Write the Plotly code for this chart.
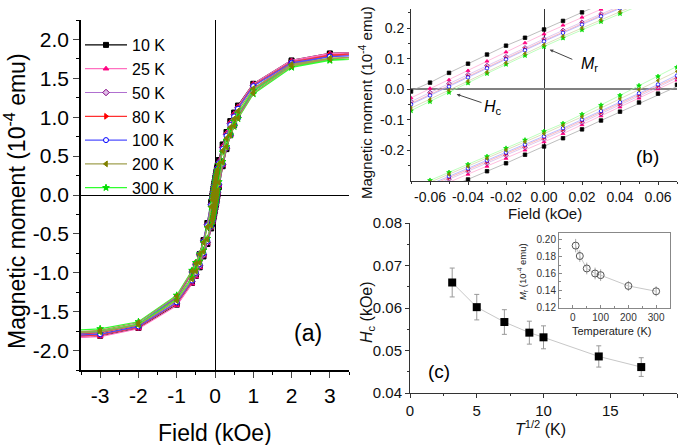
import plotly.graph_objects as go

W, H = 685, 445
def px(x): return x / W
def py(y): return 1 - y / H

# ---------------- data ----------------
temps = ["10 K", "25 K", "50 K", "80 K", "100 K", "200 K", "300 K"]

H_down = [4, 3, 2, 1, 0.6, 0.5, 0.4, 0.3, 0.2, 0.1,
          0.07, 0.06, 0.05, 0.04, 0.03, 0.02, 0.01, 0.0, -0.01, -0.02, -0.03, -0.04, -0.05, -0.06, -0.07,
          -0.1, -0.2, -0.3, -0.4, -0.5, -0.6, -1, -2, -3, -4]
H_up = [-4, -3, -2, -1, -0.6, -0.5, -0.4, -0.3, -0.2, -0.1,
        -0.07, -0.06, -0.05, -0.04, -0.03, -0.02, -0.01, 0.0, 0.01, 0.02, 0.03, 0.04, 0.05, 0.06, 0.07,
        0.1, 0.2, 0.3, 0.4, 0.5, 0.6, 1, 2, 3, 4]

M10_down = [1.84, 1.82, 1.73, 1.43, 1.15, 1.06, 0.95, 0.81, 0.65, 0.45,
            0.381, 0.356, 0.331, 0.305, 0.279, 0.252, 0.224, 0.196, 0.169, 0.143, 0.114, 0.084, 0.054, 0.022, -0.007,
            -0.09, -0.36, -0.58, -0.76, -0.89, -1.00, -1.34, -1.69, -1.79, -1.82]
M10_up = [-1.84, -1.81, -1.71, -1.41, -1.13, -1.04, -0.93, -0.79, -0.63, -0.43,
          -0.372, -0.347, -0.321, -0.295, -0.268, -0.242, -0.214, -0.187, -0.160, -0.131, -0.102, -0.073, -0.043, -0.014, 0.015,
          0.10, 0.37, 0.59, 0.77, 0.90, 1.01, 1.36, 1.71, 1.81, 1.84]

M25_down = [1.84, 1.82, 1.73, 1.43, 1.14, 1.05, 0.94, 0.80, 0.63, 0.435,
            0.366, 0.341, 0.315, 0.289, 0.262, 0.236, 0.210, 0.181, 0.152, 0.122, 0.092, 0.061, 0.031, 0.003, -0.028,
            -0.11, -0.37, -0.59, -0.76, -0.89, -1.00, -1.34, -1.70, -1.80, -1.83]
M25_up = [-1.84, -1.82, -1.72, -1.42, -1.14, -1.05, -0.93, -0.78, -0.62, -0.42,
          -0.355, -0.330, -0.304, -0.278, -0.252, -0.226, -0.199, -0.172, -0.145, -0.116, -0.087, -0.058, -0.029, 0.001, 0.030,
          0.12, 0.38, 0.60, 0.77, 0.90, 1.01, 1.36, 1.71, 1.81, 1.84]

M50_down = [1.82, 1.80, 1.71, 1.41, 1.12, 1.03, 0.92, 0.78, 0.61, 0.42,
            0.349, 0.324, 0.299, 0.273, 0.247, 0.220, 0.193, 0.165, 0.136, 0.107, 0.078, 0.048, 0.019, -0.010, -0.040,
            -0.12, -0.38, -0.59, -0.76, -0.89, -0.99, -1.32, -1.67, -1.77, -1.80]
M50_up = [-1.82, -1.80, -1.70, -1.39, -1.11, -1.02, -0.91, -0.77, -0.61, -0.41,
          -0.345, -0.320, -0.294, -0.268, -0.242, -0.216, -0.190, -0.163, -0.136, -0.108, -0.080, -0.051, -0.022, 0.007, 0.036,
          0.13, 0.39, 0.60, 0.77, 0.90, 1.00, 1.34, 1.69, 1.79, 1.82]

M80_down = [1.82, 1.80, 1.71, 1.41, 1.12, 1.02, 0.91, 0.77, 0.60, 0.41,
            0.344, 0.319, 0.294, 0.268, 0.242, 0.215, 0.188, 0.160, 0.131, 0.101, 0.072, 0.042, 0.012, -0.017, -0.046,
            -0.13, -0.39, -0.60, -0.76, -0.88, -0.99, -1.32, -1.67, -1.77, -1.80]
M80_up = [-1.82, -1.80, -1.70, -1.39, -1.11, -1.01, -0.90, -0.76, -0.60, -0.41,
          -0.340, -0.315, -0.289, -0.263, -0.237, -0.211, -0.185, -0.158, -0.131, -0.103, -0.075, -0.046, -0.017, 0.012, 0.041,
          0.14, 0.40, 0.61, 0.77, 0.89, 1.00, 1.34, 1.69, 1.79, 1.82]

M100_down = [1.80, 1.78, 1.70, 1.40, 1.11, 1.01, 0.90, 0.76, 0.59, 0.41,
             0.341, 0.316, 0.291, 0.265, 0.239, 0.212, 0.185, 0.157, 0.128, 0.098, 0.069, 0.039, 0.009, -0.020, -0.049,
             -0.13, -0.39, -0.60, -0.76, -0.88, -0.98, -1.31, -1.66, -1.76, -1.79]
M100_up = [-1.81, -1.79, -1.69, -1.38, -1.10, -1.00, -0.89, -0.75, -0.59, -0.40,
           -0.336, -0.311, -0.285, -0.259, -0.233, -0.207, -0.181, -0.154, -0.127, -0.099, -0.071, -0.042, -0.013, 0.016, 0.045,
           0.14, 0.40, 0.61, 0.77, 0.89, 0.99, 1.33, 1.68, 1.78, 1.80]

M200_down = [1.78, 1.76, 1.68, 1.37, 1.08, 0.98, 0.87, 0.73, 0.57, 0.40,
             0.330, 0.305, 0.280, 0.254, 0.228, 0.201, 0.174, 0.146, 0.117, 0.087, 0.057, 0.027, -0.003, -0.033, -0.062,
             -0.15, -0.41, -0.61, -0.76, -0.88, -0.98, -1.30, -1.64, -1.74, -1.77]
M200_up = [-1.78, -1.76, -1.67, -1.36, -1.08, -0.98, -0.87, -0.73, -0.57, -0.39,
           -0.330, -0.304, -0.278, -0.252, -0.226, -0.199, -0.172, -0.145, -0.118, -0.090, -0.061, -0.031, -0.001, 0.029, 0.059,
           0.16, 0.42, 0.62, 0.77, 0.89, 0.99, 1.31, 1.66, 1.75, 1.78]

M300_down = [1.76, 1.74, 1.66, 1.34, 1.05, 0.95, 0.84, 0.70, 0.55, 0.39,
             0.324, 0.299, 0.274, 0.248, 0.222, 0.195, 0.168, 0.140, 0.111, 0.082, 0.052, 0.021, -0.010, -0.040, -0.070,
             -0.16, -0.42, -0.61, -0.76, -0.87, -0.97, -1.29, -1.63, -1.72, -1.75]
M300_up = [-1.77, -1.75, -1.66, -1.34, -1.06, -0.96, -0.85, -0.71, -0.56, -0.39,
           -0.324, -0.298, -0.272, -0.246, -0.220, -0.193, -0.166, -0.138, -0.112, -0.082, -0.052, -0.020, 0.012, 0.042, 0.072,
           0.17, 0.43, 0.62, 0.77, 0.88, 0.98, 1.30, 1.64, 1.73, 1.76]

loops_down = [M10_down, M25_down, M50_down, M80_down, M100_down, M200_down, M300_down]
loops_up = [M10_up, M25_up, M50_up, M80_up, M100_up, M200_up, M300_up]

# panel (c): coercivity vs T^1/2
sqrtT = [3.16, 5.0, 7.07, 8.94, 10.0, 14.14, 17.32]
Hc = [0.0660, 0.0602, 0.0567, 0.0542, 0.0531, 0.0486, 0.0461]
Hc_err = [0.0034, 0.0030, 0.0029, 0.0027, 0.0027, 0.0025, 0.0022]

# inset: remanence vs temperature
T_K = [10, 25, 50, 80, 100, 200, 300]
Mr = [0.1932, 0.1808, 0.1660, 0.1600, 0.1580, 0.1452, 0.1388]
Mr_err = [0.008, 0.007, 0.007, 0.007, 0.007, 0.006, 0.006]

# tick labels
a_xticks = [-3, -2, -1, 0, 1, 2, 3]
a_xlabels = ["-3", "-2", "-1", "0", "1", "2", "3"]
a_yticks = [-2.0, -1.5, -1.0, -0.5, 0.0, 0.5, 1.0, 1.5, 2.0]
a_ylabels = ["-2.0", "-1.5", "-1.0", "-0.5", "0.0", "0.5", "1.0", "1.5", "2.0"]
b_xticks = [-0.06, -0.04, -0.02, 0.0, 0.02, 0.04, 0.06]
b_xlabels = ["-0.06", "-0.04", "-0.02", "0.00", "0.02", "0.04", "0.06"]
b_yticks = [-0.2, -0.1, 0.0, 0.1, 0.2]
b_ylabels = ["-0.2", "-0.1", "0.0", "0.1", "0.2"]
c_xticks = [0, 5, 10, 15, 20]
c_xlabels = ["0", "5", "10", "15", "20"]
c_yticks = [0.04, 0.05, 0.06, 0.07, 0.08]
c_ylabels = ["0.04", "0.05", "0.06", "0.07", "0.08"]
i_xticks = [0, 100, 200, 300]
i_xlabels = ["0", "100", "200", "300"]
i_yticks = [0.12, 0.14, 0.16, 0.18, 0.20]
i_ylabels = ["0.12", "0.14", "0.16", "0.18", "0.20"]

# ---------------- style ----------------
FONT = "Arial, Liberation Sans, sans-serif"
mk_colors = ["#000000", "#FF0080", "#800080", "#FF0000", "#0000FF", "#808000", "#00DD00"]
mk_fill = ["#000000", "#FF0080", "#E0C0E8", "#FF0000", "#FFFFFF", "#808000", "#00DD00"]
ln_a = ["#000000", "#FF70C0", "#B070D0", "#FF3030", "#5050FF", "#A0A050", "#30FF30"]
ln_b = ["#A0A0A0", "#FFA0D0", "#D0B0E8", "#FFA0A0", "#A0A0FF", "#D0D0A0", "#A0FFA0"]
symbols = ["square", "triangle-up", "diamond", "triangle-right", "circle", "triangle-left", "star"]
draw_order = [0, 1, 2, 3, 4, 6, 5]

fig = go.Figure()

for i in draw_order:
    xs = H_down + H_up
    ys = loops_down[i] + loops_up[i]
    fig.add_trace(go.Scatter(
        x=xs, y=ys, mode="lines+markers", name=temps[i], xaxis="x", yaxis="y",
        legendrank=i + 1,
        line=dict(color=ln_a[i], width=1.2),
        marker=dict(symbol=symbols[i], size=5, color=mk_fill[i],
                    line=dict(color=mk_colors[i], width=1)),
        showlegend=True))

for i in draw_order:
    xs = H_down + H_up
    ys = loops_down[i] + loops_up[i]
    fig.add_trace(go.Scatter(
        x=xs, y=ys, mode="lines+markers", name=temps[i], xaxis="x2", yaxis="y2",
        line=dict(color=ln_b[i], width=0.7),
        marker=dict(symbol=symbols[i], size=3.5, color=mk_fill[i],
                    line=dict(color=mk_colors[i], width=0.8)),
        showlegend=False))

fig.add_trace(go.Scatter(
    x=sqrtT, y=Hc, mode="lines+markers", xaxis="x3", yaxis="y3", showlegend=False,
    line=dict(color="#C8C8C8", width=1),
    marker=dict(symbol="square", size=8, color="#000000"),
    error_y=dict(type="data", array=Hc_err, color="#999999", thickness=1, width=2.5)))

fig.add_trace(go.Scatter(
    x=T_K, y=Mr, mode="lines+markers", xaxis="x4", yaxis="y4", showlegend=False,
    line=dict(color="#C8C8C8", width=1),
    marker=dict(symbol="circle-open", size=7, color="#555555", line=dict(width=1)),
    error_y=dict(type="data", array=Mr_err, color="#AAAAAA", thickness=1, width=0)))


def base_axis(**kw):
    d = dict(showgrid=False, zeroline=False, showline=True, fixedrange=True,
             tickmode="array", automargin=False)
    d.update(kw)
    return d

# panel (a)
a_font = dict(family=FONT, size=21, color="#000")
fig.update_layout(
    xaxis=base_axis(domain=[px(81), px(349)], anchor="y", range=[-3.5, 3.5],
                    tickvals=a_xticks, ticktext=a_xlabels, ticks="outside", ticklen=6,
                    tickwidth=1.3, linewidth=1.5, linecolor="#000", tickfont=a_font,
                    zeroline=True, zerolinecolor="#000", zerolinewidth=1.2,
                    minor=dict(ticks="outside", ticklen=3, tickmode="linear", tick0=-3.5, dtick=0.5,
                               tickcolor="#000", tickwidth=1)),
    yaxis=base_axis(domain=[py(370), py(20)], anchor="x", range=[-2.25, 2.25],
                    tickvals=a_yticks, ticktext=a_ylabels, ticks="outside", ticklen=6,
                    tickwidth=1.3, linewidth=1.5, linecolor="#000", tickfont=a_font,
                    zeroline=True, zerolinecolor="#000", zerolinewidth=1.2,
                    minor=dict(ticks="outside", ticklen=3, tickmode="linear", tick0=-2.25, dtick=0.25,
                               tickcolor="#000", tickwidth=1)),
    xaxis5=base_axis(overlaying="x", anchor="y", side="top", range=[-3.5, 3.5],
                     tickvals=a_xticks, ticks="inside", ticklen=6, tickwidth=1.3,
                     showticklabels=False, linewidth=1.5, linecolor="#000",
                     minor=dict(ticks="inside", ticklen=3, tickmode="linear", tick0=-3.5, dtick=0.5)),
    yaxis5=base_axis(overlaying="y", anchor="x", side="right", range=[-2.25, 2.25],
                     tickvals=a_yticks, ticks="inside", ticklen=6, tickwidth=1.3,
                     showticklabels=False, linewidth=1.5, linecolor="#000",
                     minor=dict(ticks="inside", ticklen=3, tickmode="linear", tick0=-2.25, dtick=0.25)),
)

# panel (b)
b_font = dict(family=FONT, size=14, color="#111")
fig.update_layout(
    xaxis2=base_axis(domain=[px(411), px(677)], anchor="y2", range=[-0.07, 0.07],
                     tickvals=b_xticks, ticktext=b_xlabels, ticks="outside", ticklen=3,
                     linewidth=1, linecolor="#333", tickcolor="#333", tickfont=b_font,
                     zeroline=True, zerolinecolor="#333", zerolinewidth=1,
                     minor=dict(ticks="outside", ticklen=2, tickmode="linear", tick0=-0.07, dtick=0.01,
                                tickcolor="#333")),
    yaxis2=base_axis(domain=[py(181), py(9)], anchor="x2", range=[-0.3, 0.263],
                     tickvals=b_yticks, ticktext=b_ylabels, ticks="outside", ticklen=3,
                     linewidth=1, linecolor="#333", tickcolor="#333", tickfont=b_font,
                     zeroline=True, zerolinecolor="#808080", zerolinewidth=1.5,
                     minor=dict(ticks="outside", ticklen=2, tickmode="linear", tick0=-0.25, dtick=0.1,
                                tickcolor="#333")),
    xaxis6=base_axis(overlaying="x2", anchor="y2", side="top", range=[-0.07, 0.07],
                     tickvals=b_xticks, ticks="inside", ticklen=4, showticklabels=False,
                     linewidth=1, linecolor="#333", tickcolor="#333",
                     minor=dict(ticks="inside", ticklen=2, tickmode="linear", tick0=-0.07, dtick=0.01,
                                tickcolor="#333")),
    yaxis6=base_axis(overlaying="y2", anchor="x2", side="right", range=[-0.3, 0.263],
                     tickvals=b_yticks, ticks="inside", ticklen=4, showticklabels=False,
                     linewidth=1, linecolor="#333", tickcolor="#333",
                     minor=dict(ticks="inside", ticklen=2, tickmode="linear", tick0=-0.25, dtick=0.1,
                                tickcolor="#333")),
)

# panel (c)
c_font = dict(family=FONT, size=15, color="#111")
fig.update_layout(
    xaxis3=base_axis(domain=[px(410), px(677)], anchor="y3", range=[0, 20],
                     tickvals=c_xticks, ticktext=c_xlabels, ticks="outside", ticklen=4,
                     linewidth=1, linecolor="#333", tickcolor="#333", tickfont=c_font,
                     minor=dict(ticks="outside", ticklen=2, tickmode="linear", tick0=0, dtick=2.5,
                                tickcolor="#333")),
    yaxis3=base_axis(domain=[py(393), py(223)], anchor="x3", range=[0.04, 0.08],
                     tickvals=c_yticks, ticktext=c_ylabels, ticks="outside", ticklen=4,
                     linewidth=1, linecolor="#333", tickcolor="#333", tickfont=c_font,
                     minor=dict(ticks="outside", ticklen=2, tickmode="linear", tick0=0.04, dtick=0.005,
                                tickcolor="#333")),
    xaxis7=base_axis(overlaying="x3", anchor="y3", side="top", range=[0, 20],
                     tickvals=c_xticks, ticks="inside", ticklen=4, showticklabels=False,
                     linewidth=1, linecolor="#333", tickcolor="#333",
                     minor=dict(ticks="inside", ticklen=2, tickmode="linear", tick0=0, dtick=2.5,
                                tickcolor="#333")),
    yaxis7=base_axis(overlaying="y3", anchor="x3", side="right", range=[0.04, 0.08],
                     tickvals=c_yticks, ticks="inside", ticklen=4, showticklabels=False,
                     linewidth=1, linecolor="#333", tickcolor="#333",
                     minor=dict(ticks="inside", ticklen=2, tickmode="linear", tick0=0.04, dtick=0.005,
                                tickcolor="#333")),
)

# inset
i_font = dict(family=FONT, size=10, color="#333")
fig.update_layout(
    xaxis4=base_axis(domain=[px(559), px(670)], anchor="y4", range=[-50, 350],
                     tickvals=i_xticks, ticktext=i_xlabels, ticks="inside", ticklen=3,
                     linewidth=1, linecolor="#888", tickcolor="#888", tickfont=i_font, mirror=True,
                     minor=dict(ticks="inside", ticklen=1.5, tickmode="linear", tick0=-50, dtick=50,
                                tickcolor="#888")),
    yaxis4=base_axis(domain=[py(307.5), py(232.5)], anchor="x4", range=[0.1195, 0.2088],
                     tickvals=i_yticks, ticktext=i_ylabels, ticks="inside", ticklen=3,
                     linewidth=1, linecolor="#888", tickcolor="#888", tickfont=i_font, mirror=True,
                     minor=dict(ticks="inside", ticklen=1.5, tickmode="linear", tick0=0.11, dtick=0.01,
                                tickcolor="#888")),
)

def txt(x, y, text, size, angle=0, color="#000", **kw):
    d = dict(x=px(x), y=py(y), xref="paper", yref="paper", text=text, showarrow=False,
             textangle=angle, font=dict(family=FONT, size=size, color=color),
             xanchor="center", yanchor="middle")
    d.update(kw)
    return d

annotations = [
    txt(15, 201, "Magnetic moment (10<sup>-4</sup> emu)", 23, angle=-90),
    txt(215, 433, "Field (kOe)", 23),
    txt(308, 333, "(a)", 23),
    txt(366, 102, "Magnetic moment (10<sup>-4</sup> emu)", 15, angle=-90, color="#111"),
    txt(545, 213, "Field (kOe)", 15, color="#111"),
    txt(647, 156, "(b)", 19),
    txt(540, 428, "<i>T</i><sup>1/2</sup> (K)", 16, color="#111"),
    txt(367, 312, "<i>H</i><sub>c</sub> (kOe)", 16, angle=-90, color="#111"),
    txt(439, 371, "(c)", 19),
    txt(611, 331, "Temperature (K)", 11, color="#222"),
    txt(522, 272, "<i>M</i><sub>r</sub> (10<sup>-4</sup> emu)", 9.5, angle=-90, color="#222"),
    txt(589, 64, "<i>M</i><sub>r</sub>", 16, color="#000"),
    txt(493, 108, "<i>H</i><sub>c</sub>", 16, color="#000"),
    dict(x=0.003, y=0.13, xref="x2", yref="y2", ax=0.0157, ay=0.096, axref="x2", ayref="y2",
         text="", showarrow=True, arrowhead=2, arrowsize=0.7, arrowwidth=1, arrowcolor="#444"),
    dict(x=-0.046, y=-0.016, xref="x2", yref="y2", ax=-0.0321, ay=-0.045, axref="x2", ayref="y2",
         text="", showarrow=True, arrowhead=2, arrowsize=0.7, arrowwidth=1, arrowcolor="#444"),
]

fig.update_layout(
    width=W, height=H, autosize=False,
    margin=dict(l=0, r=0, t=0, b=0),
    paper_bgcolor="white", plot_bgcolor="white",
    font=dict(family=FONT, color="#000"),
    annotations=annotations,
    legend=dict(x=px(80), y=py(28), xanchor="left", yanchor="top",
                bgcolor="rgba(0,0,0,0)", borderwidth=0, itemwidth=42,
                font=dict(family=FONT, size=16, color="#000"),
                tracegroupgap=0, traceorder="normal"),
)

fig.write_html("out.html", config={"displayModeBar": False},
               post_script="document.body.style.margin='0';document.body.style.padding='0';")
